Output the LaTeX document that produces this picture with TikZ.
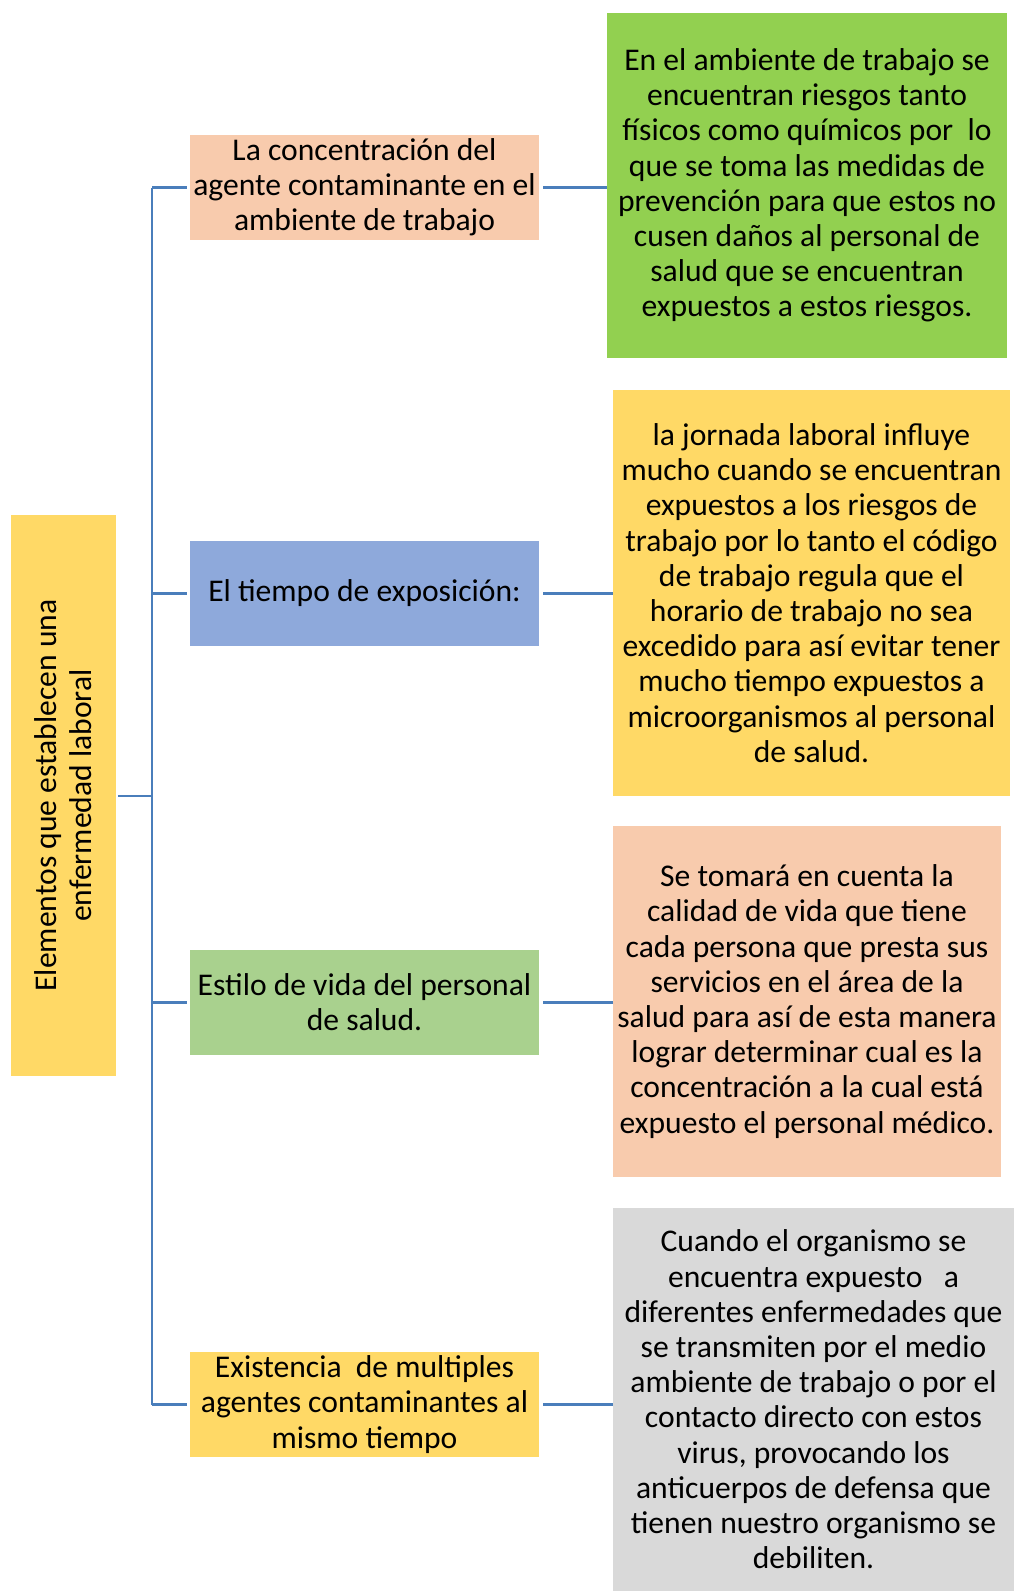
\documentclass[tikz,border=0pt]{standalone}
\usepackage{fontspec}
\setmainfont{Carlito}
\definecolor{cgreen}{HTML}{92D050}
\definecolor{cyellow}{HTML}{FFD966}
\definecolor{cpeach}{HTML}{F8CBAD}
\definecolor{cblue}{HTML}{8EA9DB}
\definecolor{clgreen}{HTML}{A9D18E}
\definecolor{cgray}{HTML}{D9D9D9}
\definecolor{cline}{HTML}{4A7EBB}
\begin{document}
\begin{tikzpicture}[x=1pt,y=-1pt,
  box/.style={inner sep=0pt, align=center, font=\fontsize{31.6}{35.2}\selectfont},
  conn/.style={draw=cline, line width=2.4pt}]
\useasboundingbox (0,0) rectangle (1014,1591);
% root
\node[box, fill=cyellow, minimum width=105pt, minimum height=561pt] (root) at (63.5,795.5) {};
\node[box, rotate=90] (roottext) at (root.center) {Elementos que establecen una\\enfermedad laboral};
% middle boxes
\node[box, fill=cpeach, minimum width=349pt, minimum height=105pt] (m1) at (364.5,187.5) {La concentración del\\agente contaminante en el\\ambiente de trabajo};
\node[box, fill=cblue, minimum width=349pt, minimum height=105pt] (m2) at (364.5,593.5) {El tiempo de exposición:};
\node[box, fill=clgreen, minimum width=349pt, minimum height=105pt] (m3) at (364.5,1002.5) {Estilo de vida del personal\\de salud.};
\node[box, fill=cyellow, minimum width=349pt, minimum height=105pt] (m4) at (364.5,1404.5) {Existencia\ \ de multiples\\agentes contaminantes al\\mismo tiempo};
% right boxes
\node[box, fill=cgreen, minimum width=400pt, minimum height=345pt] (r1) at (807,185.5) {En el ambiente de trabajo se\\encuentran riesgos tanto\\físicos como químicos por\ \ lo\\que se toma las medidas de\\prevención para que estos no\\cusen daños al personal de\\salud que se encuentran\\expuestos a estos riesgos.};
\node[box, fill=cyellow, minimum width=397pt, minimum height=406pt] (r2) at (811.5,593) {la jornada laboral influye\\mucho cuando se encuentran\\expuestos a los riesgos de\\trabajo por lo tanto el código\\de trabajo regula que el\\horario de trabajo no sea\\excedido para así evitar tener\\mucho tiempo expuestos a\\microorganismos al personal\\de salud.};
\node[box, fill=cpeach, minimum width=388pt, minimum height=351pt] (r3) at (807,1001.5) {Se tomará en cuenta la\\calidad de vida que tiene\\cada persona que presta sus\\servicios en el área de la\\salud para así de esta manera\\lograr determinar cual es la\\concentración a la cual está\\expuesto el personal médico.};
\node[box, fill=cgray, minimum width=401pt, minimum height=383pt] (r4) at (813.5,1399.5) {Cuando el organismo se\\encuentra expuesto\ \ \ a\\diferentes enfermedades que\\se transmiten por el medio\\ambiente de trabajo o por el\\contacto directo con estos\\virus, provocando los\\anticuerpos de defensa que\\tienen nuestro organismo se\\debiliten.};
% trunk
\coordinate (trunk) at (152,796);
\draw[conn, shorten <=2pt] (root.east |- trunk) -- (trunk);
\draw[conn] (m1.west -| trunk) -- (m4.west -| trunk);
\foreach \m in {m1,m2,m3,m4}{
  \draw[conn, shorten >=3pt] (\m.west -| trunk) -- (\m.west);
}
\draw[conn, shorten <=4pt] (m1.east) -- (m1.east -| r1.west);
\draw[conn, shorten <=4pt] (m2.east) -- (m2.east -| r2.west);
\draw[conn, shorten <=4pt] (m3.east) -- (m3.east -| r3.west);
\draw[conn, shorten <=4pt] (m4.east) -- (m4.east -| r4.west);
\end{tikzpicture}
\end{document}
